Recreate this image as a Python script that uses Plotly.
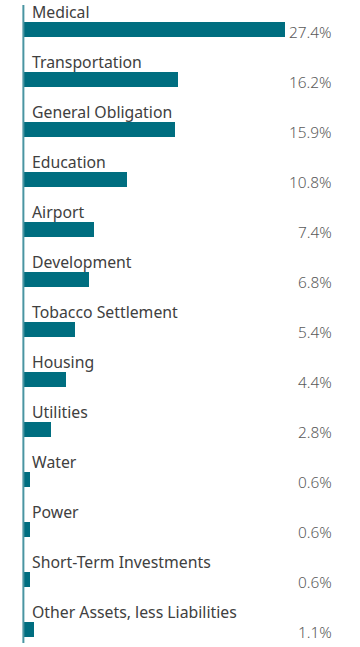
import plotly.graph_objects as go

categories = ["Medical", "Transportation", "General Obligation", "Education", "Airport",
              "Development", "Tobacco Settlement", "Housing", "Utilities", "Water",
              "Power", "Short-Term Investments", "Other Assets, less Liabilities"]
values = [27.4, 16.2, 15.9, 10.8, 7.4, 6.8, 5.4, 4.4, 2.8, 0.6, 0.6, 0.6, 1.1]
value_labels = ["27.4%", "16.2%", "15.9%", "10.8%", "7.4%", "6.8%", "5.4%", "4.4%",
                "2.8%", "0.6%", "0.6%", "0.6%", "1.1%"]

pos = list(range(len(categories)))

fig = go.Figure()
fig.add_trace(go.Bar(
    x=values, y=pos, orientation="h", width=0.3,
    marker=dict(color="#006E80", line=dict(width=0)),
    hoverinfo="skip",
))

annotations = []
for i, (c, lab) in enumerate(zip(categories, value_labels)):
    annotations.append(dict(
        x=0, y=i, xref="x", yref="y", text=c, showarrow=False,
        xanchor="left", yanchor="middle", xshift=6, yshift=18,
        font=dict(family="Noto Sans", size=15.8, color="#404040"),
    ))
    annotations.append(dict(
        x=1, y=i, xref="paper", yref="y", text=lab, showarrow=False,
        xanchor="right", yanchor="middle", xshift=0, yshift=-3,
        font=dict(family="Noto Sans", size=15.4, color="#5a5a5a", weight=300),
    ))

fig.update_layout(
    width=360, height=647,
    margin=dict(l=24, r=26, t=0, b=0),
    plot_bgcolor="white", paper_bgcolor="white",
    showlegend=False,
    bargap=0,
    annotations=annotations,
    xaxis=dict(range=[0, 32.6], visible=False, fixedrange=True),
    yaxis=dict(range=[12.35, -0.59], visible=False, fixedrange=True),
    shapes=[dict(type="line", xref="paper", yref="paper", x0=-0.002, x1=-0.002,
                 y0=1 - 5 / 647, y1=1 - 643 / 647, layer="above",
                 line=dict(color="#4A95A2", width=2))],
)

fig.write_html("out.html", config={"displayModeBar": False},
               post_script="document.body.style.margin='0px';")
